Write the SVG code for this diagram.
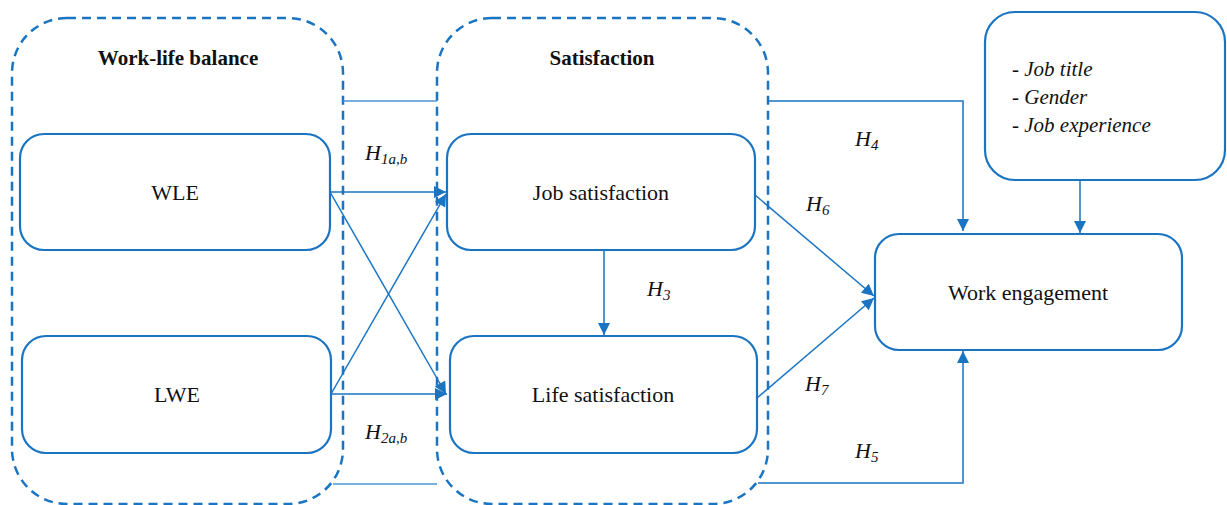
<svg xmlns="http://www.w3.org/2000/svg" width="1227" height="505" viewBox="0 0 1227 505">
<defs>
<marker id="a2" viewBox="0 0 10 10" refX="10" refY="5" markerWidth="13" markerHeight="12" markerUnits="userSpaceOnUse" orient="auto"><path d="M0,0L10,5L0,10z" fill="#1a74c2"/></marker>
</defs>
<g id="groups" fill="none" stroke="#1a74c2" stroke-width="2.5" stroke-dasharray="9 6">
<rect id="wlb" x="12" y="18" width="331" height="486" rx="55"/>
<rect id="sat" x="437" y="18" width="331" height="486" rx="55"/>
</g>
<g id="connectors" fill="none" stroke="#1a74c2" stroke-width="1.5">
<path stroke="#4a94d4" stroke-width="1.3" d="M343,101H437"/>
<path stroke="#4a94d4" stroke-width="1.3" d="M333,484H437"/>
<path d="M768,101H963V231" marker-end="url(#a2)"/>
<path d="M758,483H963V351" marker-end="url(#a2)"/>
<path d="M330,192H446" marker-end="url(#a2)"/>
<path d="M330,192L446,394" marker-end="url(#a2)"/>
<path d="M331,394L446,194" marker-end="url(#a2)"/>
<path d="M331,394H447" marker-end="url(#a2)"/>
<path d="M604,250V335" marker-end="url(#a2)"/>
<path d="M755,195L874,296" marker-end="url(#a2)"/>
<path d="M757,398L874,298" marker-end="url(#a2)"/>
<path d="M1080,180V233" marker-end="url(#a2)"/>
</g>
<g id="labels">
<text font-family="Liberation Serif" fill="#111" font-size="21" font-weight="bold" text-anchor="middle" x="178" y="65">Work-life balance</text>
<text font-family="Liberation Serif" fill="#111" font-size="21" font-weight="bold" text-anchor="middle" x="602" y="65">Satisfaction</text>
<text font-family="Liberation Serif" fill="#111" font-size="22" font-style="italic" x="365" y="160">H<tspan font-size="15" dy="4">1a,b</tspan></text>
<text font-family="Liberation Serif" fill="#111" font-size="22" font-style="italic" x="365" y="439">H<tspan font-size="15" dy="4">2a,b</tspan></text>
<text font-family="Liberation Serif" fill="#111" font-size="22" font-style="italic" x="647" y="296">H<tspan font-size="15" dy="4">3</tspan></text>
<text font-family="Liberation Serif" fill="#111" font-size="22" font-style="italic" x="855" y="146">H<tspan font-size="15" dy="4">4</tspan></text>
<text font-family="Liberation Serif" fill="#111" font-size="22" font-style="italic" x="806" y="211">H<tspan font-size="15" dy="4">6</tspan></text>
<text font-family="Liberation Serif" fill="#111" font-size="22" font-style="italic" x="805" y="391">H<tspan font-size="15" dy="4">7</tspan></text>
<text font-family="Liberation Serif" fill="#111" font-size="22" font-style="italic" x="855" y="458">H<tspan font-size="15" dy="4">5</tspan></text>
</g>
<g id="wle"><rect fill="#fff" stroke="#1a74c2" stroke-width="2.2" x="20" y="134" width="310" height="116" rx="24"/><text font-family="Liberation Serif" fill="#111" font-size="22" text-anchor="middle" x="175" y="200">WLE</text></g>
<g id="lwe"><rect fill="#fff" stroke="#1a74c2" stroke-width="2.2" x="22" y="336" width="309" height="117" rx="24"/><text font-family="Liberation Serif" fill="#111" font-size="22" text-anchor="middle" x="177" y="402">LWE</text></g>
<g id="job"><rect fill="#fff" stroke="#1a74c2" stroke-width="2.2" x="447" y="134" width="308" height="116" rx="24"/><text font-family="Liberation Serif" fill="#111" font-size="22" text-anchor="middle" x="601" y="200">Job satisfaction</text></g>
<g id="life"><rect fill="#fff" stroke="#1a74c2" stroke-width="2.2" x="450" y="336" width="307" height="117" rx="24"/><text font-family="Liberation Serif" fill="#111" font-size="22" text-anchor="middle" x="603" y="402">Life satisfaction</text></g>
<g id="we"><rect fill="#fff" stroke="#1a74c2" stroke-width="2.2" x="875" y="234" width="307" height="116" rx="24"/><text font-family="Liberation Serif" fill="#111" font-size="22" text-anchor="middle" x="1028" y="300">Work engagement</text></g>
<g id="controls"><rect fill="#fff" stroke="#1a74c2" stroke-width="2.2" x="985" y="12" width="240" height="168" rx="30"/>
<text font-family="Liberation Serif" fill="#111" font-size="21" font-style="italic" x="1012" y="76">- Job title</text>
<text font-family="Liberation Serif" fill="#111" font-size="21" font-style="italic" x="1012" y="104">- Gender</text>
<text font-family="Liberation Serif" fill="#111" font-size="21" font-style="italic" x="1012" y="132">- Job experience</text>
</g>
</svg>
